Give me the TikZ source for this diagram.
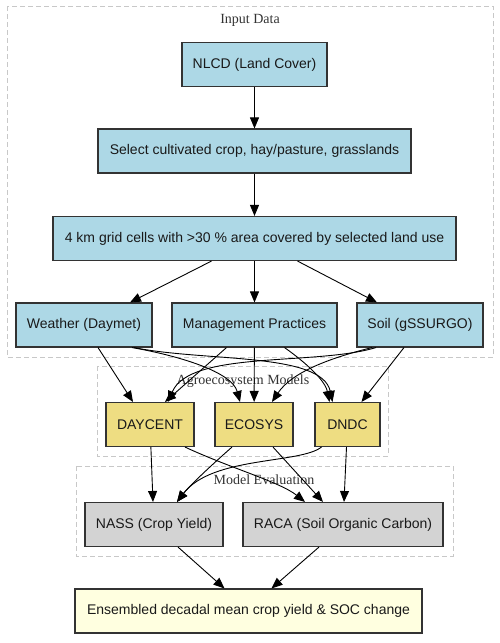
\documentclass[tikz,border=0pt]{standalone}
\usepackage{fontspec}
\setmainfont{Liberation Sans}
\newfontfamily\clusterfont{Liberation Serif}
\usepackage{tikz}
\usetikzlibrary{arrows.meta, positioning, calc}

\definecolor{inputblue}{HTML}{ADD8E6}
\definecolor{modelgold}{HTML}{EEDD82}
\definecolor{evalgrey}{HTML}{D3D3D3}
\definecolor{outyellow}{HTML}{FFFFE0}
\definecolor{boxline}{HTML}{333333}
\definecolor{clusterline}{HTML}{C8C8C8}

\begin{document}
\begin{tikzpicture}[x=1pt, y=-1pt,
    box/.style={draw=boxline, line width=1.1pt, inner sep=0pt, minimum height=44pt,
                font=\fontsize{14}{16}\selectfont, text=black!90},
    inbox/.style={box, fill=inputblue},
    modelbox/.style={box, fill=modelgold},
    evalbox/.style={box, fill=evalgrey},
    outbox/.style={box, fill=outyellow},
    cluster/.style={draw=clusterline, line width=0.9pt, dash pattern=on 5pt off 3pt},
    clustertitle/.style={font=\clusterfont\fontsize{14}{16}\selectfont, text=boxline},
    flow/.style={-{Triangle[length=11pt, width=9pt]}, line width=0.9pt, black}]
    \useasboundingbox (0,0) rectangle (500,643);

    % clusters
    \draw[cluster] (7,6) rectangle (493,357);
    \draw[cluster] (97,366) rectangle (388,456);
    \draw[cluster] (76,466) rectangle (453,556);
    \node[clustertitle] (tin)   at (250,20)  {Input Data};
    \node[clustertitle] (tagro) at (243,381) {Agroecosystem Models};
    \node[clustertitle] (teval) at (264,480) {Model Evaluation};

    % input data
    \node[inbox, minimum width=145pt] (nlcd) at (254.5,64.5)  {NLCD (Land Cover)};
    \node[inbox, minimum width=313pt] (sel)  at (254.5,151)   {Select cultivated crop, hay/pasture, grasslands};
    \node[inbox, minimum width=403pt] (grid) at (254.5,238.5) {4 km grid cells with >30 \% area covered by selected land use};
    \node[inbox, minimum width=136pt] (wea)  at (84,325)      {Weather (Daymet)};
    \node[inbox, minimum width=165pt] (mgmt) at (254.5,325)   {Management Practices};
    \node[inbox, minimum width=126pt] (soil) at (420,325)     {Soil (gSSURGO)};

    % models
    \node[modelbox, minimum width=88pt] (day)  at (150,424.5)   {DAYCENT};
    \node[modelbox, minimum width=78pt] (eco)  at (254,424.5)   {ECOSYS};
    \node[modelbox, minimum width=65pt] (dndc) at (347.5,424.5) {DNDC};

    % evaluation
    \node[evalbox, minimum width=138pt] (nass) at (154,524.5) {NASS (Crop Yield)};
    \node[evalbox, minimum width=200pt] (raca) at (343,524.5) {RACA (Soil Organic Carbon)};

    % output
    \node[outbox, minimum width=347pt] (fin) at (248.5,611) {Ensembled decadal mean crop yield \& SOC change};

    % input chain
    \draw[flow] (nlcd) -- (sel);
    \draw[flow] (sel) -- (grid);
    \draw[flow] ([xshift=-43pt]grid.south) -- ([xshift=46pt]wea.north);
    \draw[flow] (grid) -- (mgmt);
    \draw[flow] ([xshift=43pt]grid.south) -- ([xshift=-43pt]soil.north);

    % inputs to models
    \draw[flow] ([xshift=14pt]wea.south) -- ([xshift=-17pt]day.north);
    \draw[flow] ([xshift=48pt]wea.south) .. controls (180,356) and (232,372) .. ([xshift=-14pt]eco.north);
    \draw[flow] ([xshift=50pt]wea.south) .. controls (205,362) and (322,352) .. ([xshift=-15pt]dndc.north);
    \draw[flow] ([xshift=-28pt]mgmt.south) -- ([xshift=15pt]day.north);
    \draw[flow] (mgmt) -- (eco);
    \draw[flow] ([xshift=30pt]mgmt.south) .. controls (305,362) and (325,380) .. ([xshift=-18pt]dndc.north);
    \draw[flow] ([xshift=-44pt]soil.south) .. controls (315,366) and (190,350) .. ([xshift=18pt]day.north);
    \draw[flow] ([xshift=-48pt]soil.south) .. controls (330,358) and (292,372) .. ([xshift=18pt]eco.north);
    \draw[flow] ([xshift=-16pt]soil.south) -- ([xshift=14pt]dndc.north);

    % models to evaluation
    \draw[flow] (day) -- ([xshift=-1pt]nass.north);
    \draw[flow] ([xshift=35pt]day.south) .. controls (230,468) and (280,482) .. ([xshift=-38pt]raca.north);
    \draw[flow] ([xshift=-22pt]eco.south) .. controls (215,462) and (190,485) .. ([xshift=23pt]nass.north);
    \draw[flow] ([xshift=19pt]eco.south) -- ([xshift=-20pt]raca.north);
    \draw[flow] ([xshift=-26pt]dndc.south) .. controls (300,464) and (212,456) .. ([xshift=23pt]nass.north);
    \draw[flow] ([xshift=-1pt]dndc.south) -- ([xshift=1pt]raca.north);

    % evaluation to output
    \draw[flow] ([xshift=24pt]nass.south) -- ([xshift=-24pt]fin.north);
    \draw[flow] ([xshift=-24pt]raca.south) -- ([xshift=23pt]fin.north);
\end{tikzpicture}
\end{document}
